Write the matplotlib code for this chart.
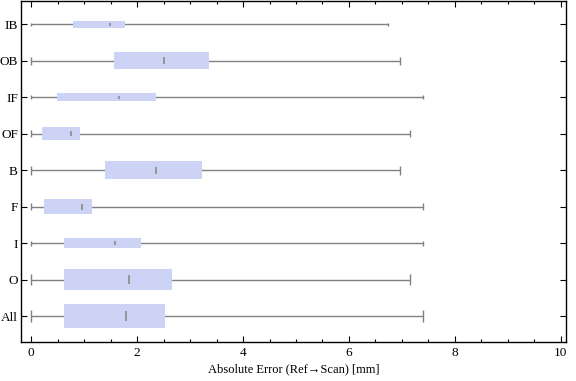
import numpy as np
import matplotlib
matplotlib.use('Agg')
import matplotlib.pyplot as plt
from matplotlib.ticker import MultipleLocator

plt.rcParams['font.family'] = ['Liberation Serif', 'DejaVu Serif']

# data, bottom to top
groups = ['All', 'O', 'I', 'F', 'B', 'OF', 'IF', 'OB', 'IB']
mins = [0, 0, 0, 0, 0, 0, 0, 0, 0]
q1 = [0.62, 0.62, 0.62, 0.24, 1.39, 0.20, 0.49, 1.56, 0.78]
medians = [1.79, 1.84, 1.58, 0.96, 2.36, 0.75, 1.66, 2.51, 1.49]
q3 = [2.53, 2.66, 2.07, 1.15, 3.23, 0.92, 2.36, 3.36, 1.77]
maxs = [7.39, 7.16, 7.39, 7.39, 6.96, 7.16, 7.39, 6.96, 6.73]

# box thickness (style)
box_h = [0.66, 0.58, 0.27, 0.41, 0.49, 0.36, 0.22, 0.47, 0.19]

box_color = '#cdd3f5'
line_color = '#808080'

fig = plt.figure(figsize=(5.76, 3.81), dpi=100)
ax = fig.add_axes([0.0359, 0.1031, 0.9467, 0.8943])

y = np.arange(1, len(groups) + 1)
h = np.array(box_h)

# whiskers
ax.hlines(y, mins, maxs, color=line_color, lw=1.0, zorder=1)
ax.vlines(mins, y - h / 4, y + h / 4, color=line_color, lw=1.0, zorder=1)
ax.vlines(maxs, y - h / 4, y + h / 4, color=line_color, lw=1.0, zorder=1)

# boxes
ax.barh(y, np.array(q3) - np.array(q1), left=q1, height=h,
        color=box_color, edgecolor='none', zorder=2)

# medians
ax.vlines(medians, y - h * 0.2, y + h * 0.2, color='#909090', lw=1.3, zorder=3)

ax.set_xlim(-0.2, 10.1)
ax.set_ylim(0.3, 9.64)
ax.set_yticks(y)
ax.set_yticklabels(groups, fontsize=9.5)
ax.xaxis.set_major_locator(MultipleLocator(2))
ax.xaxis.set_minor_locator(MultipleLocator(0.5))
ax.tick_params(axis='both', which='both', direction='in', top=True, right=True,
               width=0.8)
ax.tick_params(axis='x', labelsize=9.5, pad=4)
ax.tick_params(axis='y', pad=2)
ax.tick_params(axis='both', which='major', length=4)
ax.tick_params(axis='both', which='minor', length=2.5)
ax.tick_params(axis='y', which='minor', left=False, right=False)
for s in ax.spines.values():
    s.set_linewidth(1.0)

ax.set_xlabel('Absolute Error (Ref\u2192Scan) [mm]', fontsize=9, labelpad=3)

fig.savefig('out.png', dpi=100)
